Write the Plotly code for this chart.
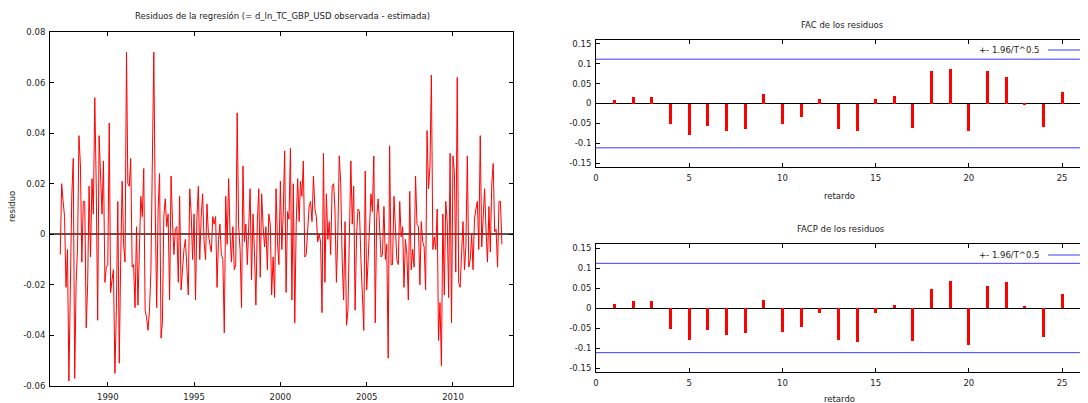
import pandas as pd
import plotly.graph_objects as go

# residuos mensuales (abr 1987 - nov 2012)
resid = [
    -0.008, 0.020, 0.013, 0.007, -0.021, -0.006, -0.058, -0.020, 0.015, 0.030, -0.057, -0.020,
    -0.005, 0.039, 0.027, -0.011, 0.013, 0.013, -0.037, -0.020, 0.019, -0.009, 0.022, 0.008,
    0.054, 0.020, -0.034, 0.039, 0.020, 0.008, 0.029, -0.019, -0.013, -0.012, 0.044, -0.023,
    -0.018, -0.014, -0.055, -0.030, 0.013, -0.051, -0.010, 0.021, -0.004, -0.011, 0.072, 0.020,
    0.019, 0.030, -0.013, -0.012, -0.029, 0.003, -0.028, -0.005, 0.015, 0.007, 0.026, -0.030,
    -0.033, -0.038, -0.030, -0.015, 0.030, 0.072, 0.010, -0.029, 0.010, 0.024, -0.041, -0.035,
    0.007, 0.014, 0.003, 0.008, -0.026, 0.023, 0.005, -0.008, 0.002, 0.003, -0.019, 0.015,
    -0.022, -0.012, -0.006, -0.002, -0.012, -0.024, 0.018, 0.008, -0.010, 0.008, -0.026, 0.006,
    0.019, -0.010, 0.007, 0.016, -0.003, -0.010, 0.012, 0.000, -0.004, -0.007, 0.007, 0.004,
    0.007, -0.021, -0.002, 0.004, -0.008, -0.010, -0.039, 0.015, -0.004, 0.022, 0.000, -0.011,
    0.003, -0.014, -0.012, 0.048, 0.003, -0.006, -0.029, 0.027, -0.003, 0.004, -0.012, 0.000,
    0.018, -0.018, 0.008, -0.006, -0.028, 0.005, 0.018, -0.017, 0.016, 0.003, -0.005, 0.003,
    -0.014, 0.008, 0.004, -0.024, -0.009, -0.025, 0.018, -0.003, -0.012, 0.021, -0.006, 0.008,
    0.033, -0.023, 0.009, 0.006, 0.034, -0.026, 0.020, -0.035, 0.004, 0.022, 0.005, 0.021,
    0.015, 0.029, -0.009, -0.008, 0.002, 0.011, 0.013, 0.005, 0.023, 0.010, 0.007, -0.003,
    0.000, -0.003, -0.031, 0.032, -0.019, 0.016, -0.002, 0.005, -0.008, 0.019, 0.020, 0.010,
    -0.019, 0.000, 0.031, 0.020, -0.010, -0.026, 0.005, -0.036, -0.030, 0.000, 0.029, 0.004,
    0.019, -0.030, 0.000, 0.010, 0.009, -0.010, -0.028, -0.038, 0.025, -0.022, -0.010, 0.000,
    0.016, 0.009, 0.031, -0.035, 0.007, 0.014, 0.005, -0.009, -0.008, 0.011, -0.010, -0.004,
    -0.049, 0.035, -0.012, -0.012, 0.015, 0.002, -0.010, -0.012, 0.013, -0.001, 0.003, -0.021,
    -0.002, -0.008, -0.026, 0.017, -0.014, -0.006, -0.013, 0.023, 0.004, 0.003, -0.020, 0.005,
    -0.003, -0.005, -0.022, 0.041, 0.018, 0.027, 0.063, -0.006, -0.001, -0.006, 0.010, -0.042,
    -0.027, -0.052, 0.008, -0.024, 0.013, 0.005, -0.025, 0.032, -0.035, 0.031, 0.024, -0.015,
    0.062, -0.019, -0.021, -0.008, 0.005, -0.014, -0.005, 0.031, -0.013, -0.010, 0.000, -0.014,
    0.006, 0.010, 0.013, -0.006, 0.039, -0.005, 0.010, 0.018, 0.002, -0.011, 0.011, -0.007,
    0.020, 0.028, 0.001, 0.002, -0.013, 0.013, 0.013, -0.004,
]
fechas = pd.date_range("1987-04-01", periods=len(resid), freq="MS")

lags = list(range(1, 26))
fac = [0.009, 0.017, 0.0175, -0.0525, -0.080, -0.0575, -0.070, -0.065, 0.024, -0.0525,
       -0.033, 0.011, -0.064, -0.070, 0.0125, 0.020, -0.0625, 0.081, 0.087, -0.069,
       0.0825, 0.0675, -0.0025, -0.058, 0.029]
facp = [0.010, 0.0167, 0.018, -0.052, -0.080, -0.055, -0.067, -0.063, 0.021, -0.061,
        -0.0475, -0.0125, -0.080, -0.086, -0.0125, 0.0075, -0.082, 0.048, 0.0675, -0.092,
        0.055, 0.064, 0.006, -0.072, 0.035]

res_ticks = [-0.06, -0.04, -0.02, 0, 0.02, 0.04, 0.06, 0.08]
res_labels = ["-0.06", "-0.04", "-0.02", "0", "0.02", "0.04", "0.06", "0.08"]
ac_ticks = [-0.15, -0.1, -0.05, 0, 0.05, 0.1, 0.15]
ac_labels = ["-0.15", "-0.1", "-0.05", "0", "0.05", "0.1", "0.15"]

T = len(resid)
banda = 1.96 / T ** 0.5

# la pagina tiene 8px de margen en el body: se descuenta
OFF = 8
W, H = 1088 - OFF, 403 - OFF
px = lambda v: (v - OFF) / W
py = lambda v: (H - (v - OFF)) / H

FONT = dict(family="DejaVu Sans", size=8.5, color="#222")

fig = go.Figure()
fig.add_trace(go.Scatter(x=fechas, y=resid, mode="lines",
                         line=dict(color="#ff0000", width=1), xaxis="x", yaxis="y"))

for vals, xa, ya in [(fac, "x2", "y2"), (facp, "x3", "y3")]:
    fig.add_trace(go.Bar(x=lags, y=vals, width=0.16, marker=dict(color="#ff0000", line_width=0),
                         xaxis=xa, yaxis=ya))
    for s in (1, -1):
        fig.add_trace(go.Scatter(x=[0, 30], y=[s * banda, s * banda], mode="lines",
                                 line=dict(color="#3c3cff", width=1), xaxis=xa, yaxis=ya))

eje = dict(showline=True, linecolor="black", linewidth=1, ticks="inside", ticklen=4,
           tickcolor="black", showgrid=False, tickfont=FONT, automargin=False)

fig.update_layout(
    width=W, height=H, margin=dict(l=0, r=0, t=0, b=0),
    paper_bgcolor="white", plot_bgcolor="white", showlegend=False,
    font=FONT, bargap=0,
    xaxis=dict(eje, domain=[px(50), px(513)], anchor="y", type="date",
               range=["1986-08-27", "2013-06-24"], tick0="1990-01-01", dtick="M60",
               tickformat="%Y", mirror="allticks", zeroline=False, ticklabelstandoff=3),
    yaxis=dict(eje, domain=[py(386), py(32)], anchor="x", range=[-0.06, 0.08],
               tickvals=res_ticks, ticktext=res_labels, mirror="allticks",
               zeroline=True, zerolinecolor="#555", zerolinewidth=1.5, ticklabelstandoff=2),
    xaxis2=dict(eje, domain=[px(596), 1.0], anchor="y2", range=[0, 26.39],
                tickvals=[0, 5, 10, 15, 20, 25], mirror="ticks", zeroline=False,
                ticklabelstandoff=3),
    yaxis2=dict(eje, domain=[py(167), py(40)], anchor="x2", range=[-0.16, 0.16],
                tickvals=ac_ticks, ticktext=ac_labels, mirror=False, ticklabelstandoff=2,
                zeroline=True, zerolinecolor="black", zerolinewidth=1),
    xaxis3=dict(eje, domain=[px(596), 1.0], anchor="y3", range=[0, 26.39],
                tickvals=[0, 5, 10, 15, 20, 25], mirror="ticks", zeroline=False,
                ticklabelstandoff=3),
    yaxis3=dict(eje, domain=[py(372), py(244)], anchor="x3", range=[-0.16, 0.16],
                tickvals=ac_ticks, ticktext=ac_labels, mirror=False, ticklabelstandoff=2,
                zeroline=True, zerolinecolor="black", zerolinewidth=1),
)

textos = [
    ("Residuos de la regresión (= d_ln_TC_GBP_USD observada - estimada)", 282, 16, 0),
    ("FAC de los residuos", 842, 25, 0),
    ("FACP de los residuos", 841, 229, 0),
    ("retardo", 839, 196, 0),
    ("retardo", 839, 399, 0),
    ("residuo", 12, 207, -90),
]
for texto, x, y, ang in textos:
    fig.add_annotation(text=texto, x=px(x), y=py(y), xref="paper", yref="paper",
                       showarrow=False, font=FONT, xanchor="center", yanchor="middle",
                       textangle=ang)

for y in (50, 255):
    fig.add_annotation(text="+- 1.96/T^0.5", x=px(1042), y=py(y), xref="paper", yref="paper",
                       showarrow=False, font=FONT, xanchor="right", yanchor="middle")
    fig.add_shape(type="line", xref="paper", yref="paper", x0=px(1048), x1=px(1090),
                  y0=py(y), y1=py(y), line=dict(color="#3c3cff", width=1))

fig.write_html("out.html")
